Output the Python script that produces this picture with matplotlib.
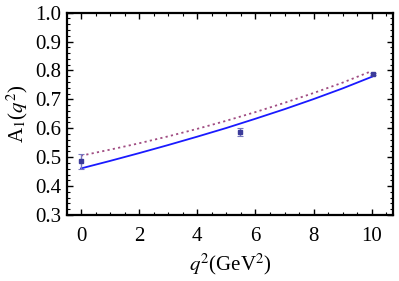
import matplotlib
matplotlib.use("Agg")
import matplotlib.pyplot as plt
from matplotlib.ticker import MultipleLocator, FormatStrFormatter

plt.rcParams["font.family"] = ["Liberation Serif", "DejaVu Serif"]
plt.rcParams["mathtext.fontset"] = "stix"

# model curves
q2_curve = [0, 1, 2, 3, 4, 5, 6, 7, 8, 9, 10]
a1_solid = [0.461, 0.487, 0.514, 0.542, 0.571, 0.601, 0.633, 0.666, 0.701, 0.738, 0.778]
a1_dotted = [0.505, 0.526, 0.548, 0.572, 0.598, 0.626, 0.656, 0.688, 0.722, 0.758, 0.798]

# data points with errors
q2_pts = [0.0, 5.48, 10.05]
a1_pts = [0.485, 0.587, 0.787]
a1_err = [0.025, 0.015, 0.004]

fig = plt.figure(figsize=(3.99, 2.81), dpi=100)
ax = fig.add_axes([0.168, 0.235, 0.817, 0.72])

ax.plot(q2_curve, a1_solid, color="#1a1aff", linewidth=1.3)
ax.plot(q2_curve, a1_dotted, color="#a04c82", linewidth=1.3, linestyle=(0, (1.2, 1.8)))
ax.errorbar(q2_pts, a1_pts, yerr=a1_err, fmt="s", markersize=2.5, color="#3c3c9a",
            ecolor="#7878c0", elinewidth=1.0, capsize=2.2, capthick=0.8)

ax.set_xlim(-0.48, 10.73)
ax.set_ylim(0.3, 1.0)
ax.xaxis.set_major_locator(MultipleLocator(2))
ax.xaxis.set_minor_locator(MultipleLocator(0.5))
ax.yaxis.set_major_locator(MultipleLocator(0.1))
ax.yaxis.set_minor_locator(MultipleLocator(0.02))
ax.tick_params(which="both", direction="in", top=True, right=True, labelsize=15)
ax.tick_params(which="major", length=4, width=1.0)
ax.tick_params(which="minor", length=2, width=0.8)
ax.tick_params(axis="x", which="major", pad=9)
ax.tick_params(axis="y", which="major", pad=4)
ax.yaxis.set_major_formatter(FormatStrFormatter("%.1f"))
for s in ax.spines.values():
    s.set_linewidth(1.6)

ax.set_xlabel(r"$q^2$(GeV$^2$)", fontsize=15, labelpad=4)
ax.set_ylabel(r"A$_1$($q^2$)", fontsize=15, labelpad=4)

fig.savefig("out.png", dpi=100)
